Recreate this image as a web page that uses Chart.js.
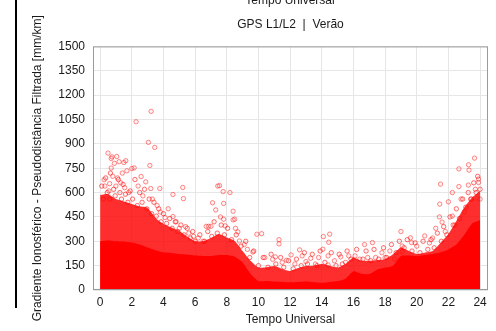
<!DOCTYPE html>
<html>
<head>
<meta charset="utf-8">
<script src="https://cdn.jsdelivr.net/npm/chart.js@4/dist/chart.umd.min.js"></script>
<style>
  html, body { margin: 0; padding: 0; background: #fff; }
  #wrap { width: 496px; height: 331px; }
</style>
</head>
<body>
<div id="wrap"><canvas id="grafico" width="496" height="331"></canvas></div>
<script>
// eixos
const xTicks = [0, 2, 4, 6, 8, 10, 12, 14, 16, 18, 20, 22, 24];
const yTicks = [0, 150, 300, 450, 600, 750, 900, 1050, 1200, 1350, 1500];

// envelopes (hora UT -> mm/km)
const horas = [0, 0.5, 1, 1.5, 2, 2.5, 3, 3.5, 4, 4.5, 5, 5.5, 6, 6.5, 7, 7.5, 8, 8.5, 9, 9.5,
  10, 10.5, 11, 11.5, 12, 12.5, 13, 13.5, 14, 14.5, 15, 15.5, 16, 16.5, 17, 17.5, 18, 18.5, 19, 19.5,
  20, 20.5, 21, 21.5, 22, 22.5, 23, 23.5, 24];
const topoSolido = [300, 305, 300, 298, 292, 280, 262, 245, 232, 228, 222, 218, 212, 210, 210, 215, 215, 205, 170, 100,
  55, 55, 52, 50, 48, 50, 52, 48, 45, 50, 55, 70, 115, 100, 98, 125, 138, 150, 210, 212,
  208, 215, 222, 232, 250, 280, 340, 410, 430];
const topoNuvem = [585, 590, 560, 545, 530, 515, 505, 444, 407, 385, 364, 330, 302, 300, 320, 345, 323, 302, 240, 180,
  138, 140, 148, 130, 117, 135, 148, 150, 160, 150, 138, 160, 200, 180, 180, 185, 190, 220, 261, 240,
  222, 230, 240, 290, 345, 425, 508, 570, 610];

// borda da nuvem densa
const franjaHoras = [0.1, 0.2, 0.35, 0.45, 0.6, 0.65, 0.85, 0.95, 1.15, 1.25, 1.35, 1.45, 1.6, 1.75, 1.9, 2.05, 2.2, 2.35, 2.5, 2.65,
  2.8, 2.95, 3.1, 3.25, 3.4, 3.55, 3.7, 3.85, 4.0, 4.2, 4.4, 4.55, 4.75, 4.9, 5.1, 5.3, 5.5, 5.7, 5.85, 6.0,
  6.3, 6.6, 6.8, 7.05, 7.2, 7.4, 7.65, 7.85, 8.05, 8.3, 8.6, 8.9, 9.2, 9.45, 9.7, 10.0, 10.3, 10.6, 10.8, 11.1,
  11.4, 11.6, 11.9, 12.2, 12.4, 12.7, 12.9, 13.1, 13.4, 13.7, 13.9, 14.2, 14.6, 14.9, 15.1, 15.3, 15.6, 15.85, 16.2, 16.6,
  16.8, 17.1, 17.3, 17.6, 17.9, 18.1, 18.4, 18.7, 18.9, 19.2, 19.4, 19.7, 19.9, 20.2, 20.4, 20.7, 20.9, 21.1, 21.3, 21.55,
  21.7, 21.9, 22.1, 22.3, 22.5, 22.7, 22.9, 23.1, 23.25, 23.45, 23.6, 23.75, 23.85, 24.0];
const franjaValores = [640, 560, 690, 600, 560, 720, 620, 580, 680, 600, 560, 650, 590, 540, 610, 560, 680, 520, 600, 540,
  620, 500, 560, 470, 540, 455, 500, 420, 470, 410, 440, 380, 420, 360, 400, 340, 380, 320, 360, 300,
  340, 300, 360, 330, 420, 350, 400, 340, 380, 310, 340, 270, 300, 200, 240, 150, 200, 140, 220, 160,
  200, 140, 180, 130, 190, 150, 230, 160, 220, 150, 240, 170, 230, 150, 220, 160, 240, 190, 250, 190,
  240, 180, 250, 190, 260, 200, 280, 230, 300, 260, 310, 240, 290, 230, 300, 250, 310, 260, 350, 300,
  390, 340, 450, 400, 500, 440, 560, 510, 600, 560, 660, 600, 700, 620];

// pontos isolados
const outHoras = [0.25, 0.3, 0.5, 0.55, 0.6, 0.7, 0.7, 0.75, 0.8, 0.9, 1.0, 1.05, 1.1, 1.2, 1.3, 1.4, 1.5, 1.55, 1.62, 1.69,
  1.8, 2.0, 2.15, 2.27, 2.4, 2.59, 2.7, 2.88, 3.05, 3.14, 3.22, 3.2, 3.3, 3.45, 3.6, 3.77, 3.8, 4.1, 4.3, 4.6,
  4.6, 4.8, 5.0, 5.22, 5.26, 5.4, 5.6, 5.9, 6.2, 6.5, 6.7, 6.85, 7.0, 7.1, 7.3, 7.43, 7.54, 7.6, 7.77, 7.8,
  7.8, 7.9, 8.2, 8.4, 8.4, 8.5, 8.55, 8.7, 8.8, 9.1, 9.3, 9.65, 9.9, 10.2, 10.4, 10.9, 11.07, 11.3, 11.3, 11.5,
  11.77, 12.06, 12.3, 12.6, 12.76, 13.0, 13.3, 13.6, 13.8, 14.07, 14.1, 14.4, 14.44, 14.5, 14.4, 14.8, 15.2, 15.5, 15.7, 16.1,
  16.4, 16.7, 16.9, 17.2, 17.4, 17.8, 18.0, 18.3, 18.6, 19.0, 19.08, 19.08, 19.6, 19.67, 20.0, 20.5, 20.8, 21.0, 21.2, 21.43,
  21.45, 21.5, 21.6, 21.8, 22.0, 22.25, 22.25, 22.4, 22.66, 22.66, 22.8, 23.0, 23.27, 23.26, 23.3, 23.4, 23.65, 23.7, 23.9, 23.9, 24.0];
const outValores = [679, 640, 843, 610, 655, 810, 751, 820, 700, 780, 640, 822, 690, 790, 660, 720, 785, 630, 796, 734,
  600, 748, 752, 1036, 640, 699, 580, 666, 909, 767, 1100, 625, 560, 878, 520, 625, 480, 446, 500, 588,
  452, 420, 380, 631, 563, 390, 350, 330, 320, 300, 392, 392, 392, 537, 493, 640, 643, 450, 606, 533,
  436, 395, 600, 485, 432, 436, 380, 358, 302, 280, 250, 234, 343, 347, 200, 189, 204, 310, 284, 170,
  183, 216, 160, 247, 210, 175, 195, 160, 200, 251, 329, 154, 294, 344, 210, 180, 204, 170, 210, 210,
  190, 280, 200, 292, 200, 230, 200, 240, 190, 360, 270, 234, 321, 292, 270, 333, 290, 320, 380, 450,
  529, 652, 418, 360, 543, 600, 455, 400, 746, 637, 560, 480, 771, 646, 738, 560, 812, 620, 683, 662, 560];

const fonte = '"Liberation Sans", Arial, Helvetica, sans-serif';
const corTexto = '#1a1a1a';

function pares(xs, ys) {
  return xs.map((x, i) => ({ x: x, y: ys[i] }));
}

// moldura + detalhes recortados da figura original
const extras = {
  id: 'extras',
  afterDraw(chart) {
    const { ctx, chartArea } = chart;
    ctx.save();
    ctx.strokeStyle = '#9a9a9a';
    ctx.lineWidth = 1;
    ctx.strokeRect(chartArea.left + 0.5, chartArea.top + 0.5, chartArea.width - 1, chartArea.height - 1);
    ctx.fillStyle = '#000';
    ctx.fillRect(15, 0, 2, 308);
    ctx.font = '12px ' + fonte;
    ctx.textAlign = 'center';
    ctx.fillStyle = corTexto;
    ctx.fillText('Tempo Universal', 290, 4);
    ctx.restore();
  }
};

const circulo = {
  pointRadius: 2.2,
  pointBorderWidth: 1,
  borderColor: 'rgba(255, 0, 0, 0.45)',
  backgroundColor: 'rgba(255, 0, 0, 0.05)'
};

const ctx = document.getElementById('grafico').getContext('2d');
new Chart(ctx, {
  type: 'scatter',
  data: {
    datasets: [
      Object.assign({ label: 'isolados', data: pares(outHoras, outValores), order: 0 }, circulo),
      Object.assign({ label: 'franja', data: pares(franjaHoras, franjaValores), order: 1 }, circulo, {
        borderColor: 'rgba(255, 0, 0, 0.55)'
      }),
      {
        label: 'solido',
        type: 'line',
        data: pares(horas, topoSolido),
        showLine: true,
        borderWidth: 0,
        borderColor: 'rgba(255, 0, 0, 1)',
        backgroundColor: '#ff0000',
        pointRadius: 0,
        fill: 'origin',
        tension: 0.2,
        order: 2
      },
      {
        label: 'nuvem',
        type: 'line',
        data: pares(horas, topoNuvem),
        showLine: true,
        borderWidth: 0,
        borderColor: 'rgba(255, 0, 0, 0.6)',
        backgroundColor: 'rgba(255, 0, 0, 0.82)',
        pointRadius: 0,
        fill: 'origin',
        tension: 0.2,
        order: 3
      }
    ]
  },
  options: {
    responsive: false,
    animation: false,
    layout: { padding: { left: 0, right: 8, top: 0, bottom: 0 } },
    plugins: {
      legend: { display: false },
      tooltip: { enabled: false },
      title: {
        display: true,
        text: 'GPS L1/L2  |  Verão',
        fullSize: false,
        color: corTexto,
        font: { family: fonte, size: 12, weight: 'normal' },
        padding: { top: 17, bottom: 15 }
      }
    },
    scales: {
      x: {
        type: 'linear',
        min: -0.45,
        max: 24.5,
        afterBuildTicks: (s) => { s.ticks = xTicks.map(v => ({ value: v })); },
        afterFit: (s) => { s.height = 41; },
        ticks: {
          color: corTexto,
          font: { family: fonte, size: 12 },
          padding: 5,
          maxRotation: 0,
          callback: (v) => String(v)
        },
        grid: { color: '#e6e6e6', drawTicks: false },
        border: { display: false },
        title: {
          display: true,
          text: 'Tempo Universal',
          color: corTexto,
          font: { family: fonte, size: 12 },
          padding: { top: 4, bottom: 4 }
        }
      },
      y: {
        min: 0,
        max: 1500,
        afterBuildTicks: (s) => { s.ticks = yTicks.map(v => ({ value: v })); },
        afterFit: (s) => { s.width = 93; },
        ticks: {
          color: corTexto,
          font: { family: fonte, size: 12 },
          padding: 8,
          callback: (v) => String(v)
        },
        grid: { color: '#e6e6e6', drawTicks: false },
        border: { display: false },
        title: {
          display: true,
          text: 'Gradiente Ionosférico - Pseudodistância Filtrada [mm/km]',
          color: corTexto,
          font: { family: fonte, size: 12 },
          padding: { top: 30, bottom: 0 }
        }
      }
    }
  },
  plugins: [extras]
});
</script>
</body>
</html>
